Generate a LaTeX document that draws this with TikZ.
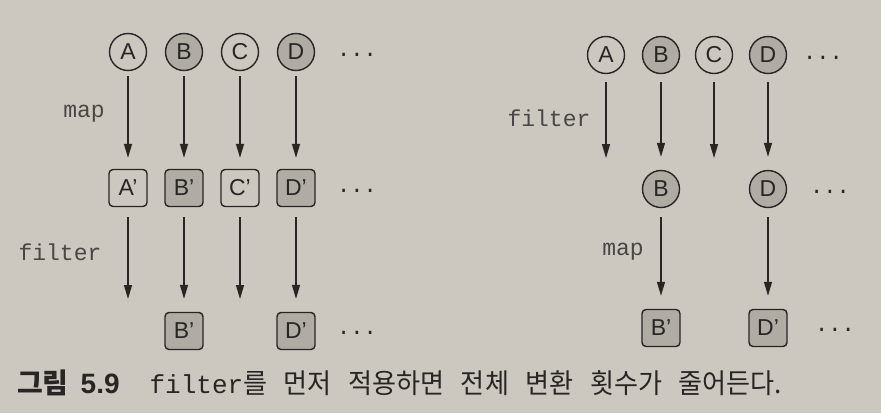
\documentclass[tikz,border=0pt]{standalone}
\usepackage{fontspec}
\setmainfont{Liberation Sans}
\newfontfamily\cjk[FakeStretch=0.95]{Noto Sans CJK KR}
\newfontfamily\cjkt{Noto Sans CJK KR}
\newfontfamily\code{Liberation Mono}
\usetikzlibrary{arrows.meta}
\definecolor{paper}{RGB}{204,200,192}
\definecolor{shade}{RGB}{176,172,164}
\definecolor{ink}{RGB}{40,38,36}
\tikzset{
  elem/.style={circle, draw=ink, line width=1.4pt, minimum size=37pt, inner sep=0pt, font=\fontsize{23}{25}\selectfont, text=ink},
  mapped/.style={rectangle, rounded corners=4pt, draw=ink, line width=1.4pt, minimum width=38pt, minimum height=37pt, inner sep=0pt, font=\fontsize{23}{25}\selectfont, text=ink},
  hit/.style={fill=shade},
  miss/.style={fill=paper},
  arr/.style={draw=ink, line width=1.2pt, -{Triangle[length=14pt,width=8pt]}},
  codelbl/.style={font=\code\fontsize{23}{25}\selectfont, text=ink!85},
  more/.style={font=\code\fontsize{22}{24}\selectfont, text=ink, inner sep=0pt}
}
\newcommand{\wsp}{\hspace{16.5pt}}
\begin{document}
\begin{tikzpicture}[x=1pt,y=-1pt]
\fill[paper] (0,0) rectangle (881,413);
\useasboundingbox (0,0) rectangle (881,413);

% ---------- left panel: map then filter ----------
\node[elem,miss] (LA) at (128,52) {A};
\node[elem,hit]  (LB) at (184,52) {B};
\node[elem,miss] (LC) at (240,52) {C};
\node[elem,hit]  (LD) at (296,52) {D};
\node[more] (Ldots1) at (357,55) {...};

\node[mapped,miss] (LA1) at (128,188) {A'};
\node[mapped,hit]  (LB1) at (184,188) {B'};
\node[mapped,miss] (LC1) at (240,188) {C'};
\node[mapped,hit]  (LD1) at (296,188) {D'};
\node[more] (Ldots2) at (357,191) {...};

\coordinate (LAend) at (128,299);
\coordinate (LCend) at (240,299);
\node[mapped,hit] (LB2) at (184,331) {B'};
\node[mapped,hit] (LD2) at (296,331) {D'};
\node[more] (Ldots3) at (357,333) {...};

\foreach \s/\t in {LA/LA1,LB/LB1,LC/LC1,LD/LD1}
  \draw[arr, shorten <=5pt, shorten >=11pt] (\s) -- (\t);
\draw[arr, shorten <=10pt] (LA1) -- (LAend);
\draw[arr, shorten <=10pt] (LC1) -- (LCend);
\draw[arr, shorten <=10pt, shorten >=13pt] (LB1) -- (LB2);
\draw[arr, shorten <=10pt, shorten >=13pt] (LD1) -- (LD2);

\node[codelbl] (Lmap) at (84,114) {map};
\node[codelbl] (Lfilter) at (60,252) {filter};

% ---------- right panel: filter then map ----------
\node[elem,miss] (RA) at (606,55) {A};
\node[elem,hit]  (RB) at (661,55) {B};
\node[elem,miss] (RC) at (714,55) {C};
\node[elem,hit]  (RD) at (768,55) {D};
\node[more] (Rdots1) at (823,58) {...};

\coordinate (RAend) at (606,158);
\coordinate (RCend) at (714,158);
\node[elem,hit] (RB1) at (661,189) {B};
\node[elem,hit] (RD1) at (768,189) {D};
\node[more] (Rdots2) at (830,192) {...};

\node[mapped,hit] (RB2) at (661,328) {B'};
\node[mapped,hit] (RD2) at (768,328) {D'};
\node[more] (Rdots3) at (835,330) {...};

\draw[arr, shorten <=8pt] (RA) -- (RAend);
\draw[arr, shorten <=8pt] (RC) -- (RCend);
\draw[arr, shorten <=8pt, shorten >=13pt] (RB) -- (RB1);
\draw[arr, shorten <=8pt, shorten >=13pt] (RD) -- (RD1);
\draw[arr, shorten <=9pt, shorten >=13pt] (RB1) -- (RB2);
\draw[arr, shorten <=9pt, shorten >=13pt] (RD1) -- (RD2);

\node[codelbl] (Rfilter) at (549,118) {filter};
\node[codelbl] (Rmap) at (623,252) {map};

% ---------- caption ----------
\node[anchor=base west, inner sep=0pt, text=ink] (cap) at (17,393)
  {{\cjkt\bfseries\fontsize{28}{30}\selectfont 그림}\hspace{12pt}{\bfseries\fontsize{28}{30}\selectfont 5.9}\hspace{30pt}{\code\fontsize{26}{28}\selectfont filter}{\cjk\fontsize{27.5}{30}\selectfont 를\wsp 먼저\wsp 적용하면\wsp 전체\wsp 변환\wsp 횟수가\wsp 줄어든다.}};
\end{tikzpicture}
\end{document}
